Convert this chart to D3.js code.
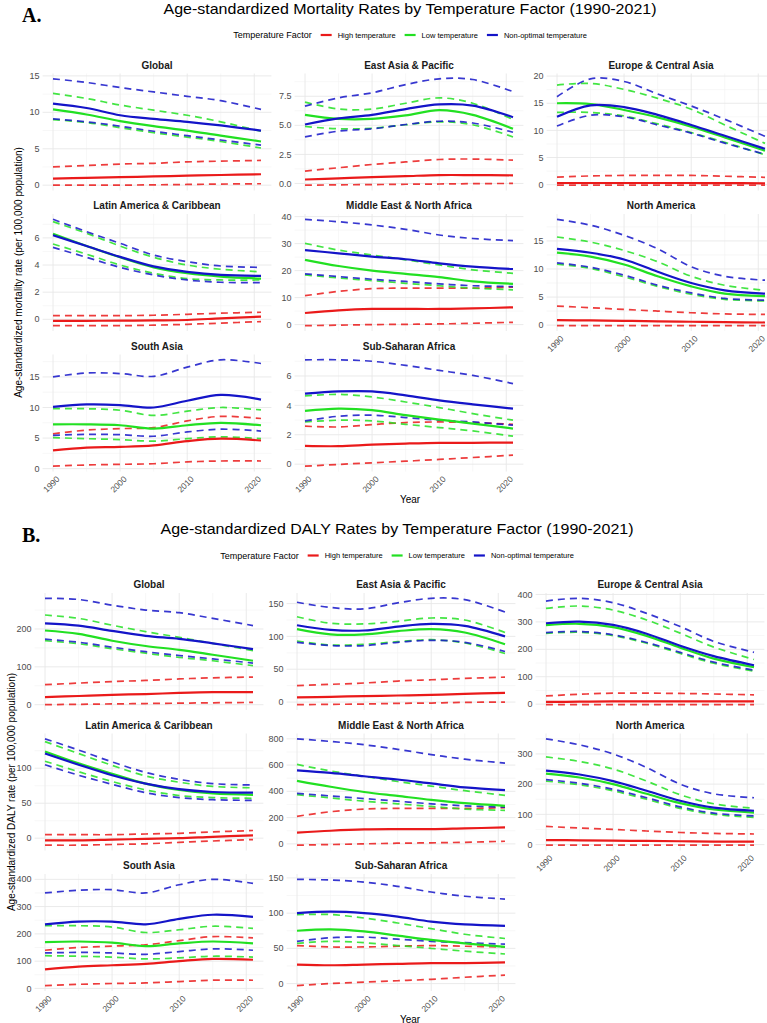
<!DOCTYPE html>
<html>
<head>
<meta charset="utf-8">
<script src="https://cdn.jsdelivr.net/npm/d3@7"></script>
<style>
  body { margin: 0; background: #fff; }
  text { font-family: "Liberation Sans", Arial, sans-serif; }
</style>
</head>
<body>
<svg id="chart" width="767" height="1023"></svg>
<script>
// sample years
const years = [1990, 1995, 2000, 2005, 2010, 2015, 2021];
const regions = ["Global", "East Asia & Pacific", "Europe & Central Asia",
  "Latin America & Caribbean", "Middle East & North Africa", "North America",
  "South Asia", "Sub-Saharan Africa"];
const factors = ["High temperature", "Low temperature", "Non-optimal temperature"];
const xTicks = [1990, 2000, 2010, 2020];

// each region: 9 rows -> for High, Low, Non-optimal: mean, lower, upper
const mortGlobal = [
  [0.9, 1.0, 1.1, 1.2, 1.3, 1.4, 1.5],
  [0.0, 0.0, 0.0, 0.05, 0.1, 0.15, 0.2],
  [2.5, 2.7, 2.9, 3.0, 3.2, 3.3, 3.4],
  [10.4, 9.7, 8.8, 8.1, 7.5, 6.8, 6.0],
  [9.0, 8.6, 7.9, 7.2, 6.6, 6.0, 5.1],
  [12.6, 11.9, 11.0, 10.3, 9.6, 8.7, 7.4],
  [11.2, 10.6, 9.6, 9.1, 8.7, 8.2, 7.5],
  [9.1, 8.7, 8.1, 7.4, 6.8, 6.2, 5.5],
  [14.6, 14.1, 13.4, 12.8, 12.2, 11.6, 10.4]
];
const mortEastAsia = [
  [0.34, 0.44, 0.54, 0.63, 0.72, 0.72, 0.7],
  [-0.15, -0.12, -0.1, -0.07, -0.05, -0.02, 0.0],
  [1.06, 1.35, 1.63, 1.85, 2.06, 2.1, 2.0],
  [5.9, 5.55, 5.55, 5.85, 6.3, 5.9, 4.7],
  [4.9, 4.7, 4.75, 5.05, 5.3, 5.05, 4.0],
  [7.0, 6.4, 6.4, 6.9, 7.36, 6.9, 5.5],
  [5.07, 5.6, 5.9, 6.4, 6.8, 6.7, 5.7],
  [4.0, 4.5, 4.7, 5.07, 5.35, 5.2, 4.4],
  [6.65, 7.36, 7.8, 8.5, 9.0, 8.94, 7.9]
];
const mortEurope = [
  [0.3, 0.3, 0.3, 0.3, 0.3, 0.28, 0.25],
  [-0.1, -0.1, -0.1, -0.1, -0.1, -0.1, -0.1],
  [1.4, 1.6, 1.7, 1.7, 1.7, 1.55, 1.35],
  [15.0, 14.85, 13.75, 12.4, 10.7, 8.7, 6.25],
  [13.3, 13.3, 12.65, 11.2, 9.6, 7.8, 5.5],
  [18.35, 18.65, 17.55, 15.9, 13.9, 11.0, 7.6],
  [12.5, 14.6, 14.3, 12.85, 11.0, 9.0, 6.6],
  [10.8, 12.8, 12.5, 11.0, 9.5, 7.65, 5.6],
  [16.2, 19.5, 19.0, 16.7, 14.5, 12.05, 8.9]
];
const mortLatin = [
  [-0.12, -0.11, -0.1, -0.08, -0.05, 0.07, 0.2],
  [-0.47, -0.47, -0.47, -0.43, -0.37, -0.28, -0.17],
  [0.27, 0.27, 0.27, 0.3, 0.37, 0.45, 0.52],
  [6.3, 5.4, 4.57, 3.83, 3.4, 3.15, 3.0],
  [5.55, 4.8, 4.0, 3.4, 3.0, 2.9, 2.9],
  [7.2, 6.34, 5.4, 4.57, 4.0, 3.69, 3.5],
  [6.2, 5.4, 4.6, 3.9, 3.5, 3.27, 3.2],
  [5.3, 4.57, 3.83, 3.27, 2.9, 2.73, 2.7],
  [7.37, 6.46, 5.6, 4.74, 4.25, 3.93, 3.83]
];
const mortMENA = [
  [4.3, 5.3, 5.8, 5.8, 5.8, 6.0, 6.4],
  [-0.4, -0.2, 0.0, 0.1, 0.25, 0.5, 0.85],
  [10.7, 12.3, 13.3, 13.5, 13.5, 13.5, 13.9],
  [24.0, 21.7, 20.0, 18.8, 17.6, 16.0, 15.1],
  [18.4, 17.3, 16.3, 15.3, 14.4, 13.5, 12.9],
  [30.1, 27.6, 25.8, 24.0, 22.1, 20.3, 19.0],
  [27.6, 26.4, 25.2, 24.2, 22.7, 21.5, 20.6],
  [18.8, 17.8, 16.8, 16.0, 15.1, 14.4, 14.1],
  [39.0, 38.1, 36.9, 35.3, 33.2, 31.9, 31.1]
];
const mortNorthAm = [
  [0.9, 0.83, 0.77, 0.68, 0.6, 0.52, 0.47],
  [-0.1, -0.1, -0.1, -0.1, -0.1, -0.1, -0.1],
  [3.4, 3.1, 2.8, 2.5, 2.2, 2.0, 1.9],
  [12.9, 12.2, 10.8, 8.7, 6.9, 5.6, 5.15],
  [10.85, 10.1, 8.6, 6.9, 5.5, 4.6, 4.3],
  [15.7, 14.8, 13.3, 11.3, 8.7, 7.1, 6.2],
  [13.6, 12.9, 11.7, 9.5, 7.5, 6.2, 5.6],
  [11.1, 10.3, 8.9, 7.1, 5.75, 4.75, 4.45],
  [18.85, 17.8, 16.0, 13.6, 10.4, 8.7, 8.0]
];
const mortSouthAsia = [
  [3.0, 3.45, 3.55, 3.8, 4.5, 4.9, 4.6],
  [0.4, 0.6, 0.7, 0.8, 1.1, 1.25, 1.25],
  [5.7, 6.3, 6.55, 6.7, 7.8, 8.55, 8.2],
  [7.25, 7.25, 7.1, 6.55, 7.1, 7.5, 7.1],
  [5.07, 4.9, 4.75, 4.5, 4.9, 5.2, 4.9],
  [9.8, 9.8, 9.55, 8.7, 9.4, 10.0, 9.6],
  [10.1, 10.5, 10.4, 10.0, 11.1, 12.05, 11.3],
  [5.45, 5.6, 5.55, 5.3, 6.0, 6.45, 6.15],
  [15.0, 15.65, 15.55, 15.1, 16.6, 17.8, 17.2]
];
const mortSSA = [
  [1.24, 1.22, 1.33, 1.4, 1.45, 1.45, 1.47],
  [-0.14, -0.02, 0.09, 0.2, 0.32, 0.45, 0.61],
  [2.58, 2.53, 2.69, 2.83, 2.87, 2.83, 2.71],
  [3.62, 3.78, 3.67, 3.33, 3.03, 2.76, 2.42],
  [2.87, 2.99, 2.94, 2.71, 2.49, 2.26, 1.9],
  [4.64, 4.75, 4.57, 4.23, 3.85, 3.44, 2.99],
  [4.8, 4.95, 4.95, 4.68, 4.34, 4.07, 3.78],
  [2.94, 3.26, 3.33, 3.17, 2.99, 2.87, 2.65],
  [7.1, 7.1, 7.0, 6.72, 6.38, 6.04, 5.48]
];

const dalyGlobal = [
  [20, 23, 26, 28, 31, 33, 33],
  [0, 1, 2, 3, 4, 5, 6],
  [53, 57, 61, 64, 68, 71, 73],
  [196, 187, 169, 155, 145, 132, 116],
  [169, 161, 148, 136, 125, 116, 103],
  [237, 228, 210, 193, 178, 162, 143],
  [215, 209, 195, 182, 174, 162, 147],
  [173, 165, 152, 140, 130, 121, 110],
  [281, 278, 263, 250, 243, 228, 209]
];
const dalyEastAsia = [
  [7, 8, 9, 10, 11, 12.5, 14],
  [-4, -3.5, -3, -2, -1.5, -0.5, 0],
  [25, 27, 29, 32, 34, 36, 38],
  [111, 103, 103, 108, 111, 106, 88],
  [93, 87, 88, 92, 95, 90, 74],
  [130, 120, 119, 123, 128, 125, 106],
  [117, 110, 109, 115, 119, 116, 100],
  [91, 86, 86, 91, 94, 91, 77],
  [152, 144, 142, 151, 158, 156, 137]
];
const dalyEurope = [
  [8, 9, 10, 10, 10, 10, 10],
  [-2, -2, -2, -2, -2, -2, -2],
  [30, 36, 40, 40, 39, 37, 34],
  [288, 293, 281, 249, 206, 166, 135],
  [258, 262, 250, 222, 185, 149, 120],
  [349, 358, 343, 307, 259, 208, 163],
  [295, 301, 289, 257, 213, 175, 142],
  [261, 265, 253, 225, 189, 153, 124],
  [376, 386, 370, 331, 283, 229, 189]
];
const dalyLatin = [
  [-3, -3, -2, -1, 0, 2, 4],
  [-10, -10, -9, -8, -6, -4, -2],
  [5, 5, 5, 6, 7, 9, 11],
  [124, 107, 92, 78, 69, 64, 62],
  [110, 95, 81, 69, 61, 58, 57],
  [138, 121, 104, 89, 80, 74, 72],
  [121, 105, 90, 78, 70, 66, 65],
  [105, 90, 77, 65, 58, 55, 54],
  [142, 126, 109, 94, 84, 78, 76]
];
const dalyMENA = [
  [85, 100, 110, 112, 112, 118, 125],
  [-10, -5, 0, 5, 8, 12, 20],
  [210, 245, 265, 270, 270, 270, 275],
  [480, 435, 395, 365, 335, 310, 290],
  [375, 350, 325, 305, 285, 265, 255],
  [605, 555, 515, 475, 440, 405, 370],
  [560, 540, 515, 490, 460, 430, 410],
  [385, 365, 345, 325, 305, 290, 280],
  [800, 780, 755, 720, 680, 645, 615]
];
const dalyNorthAm = [
  [15, 14, 13, 12, 11, 10, 10],
  [-2, -2, -2, -2, -2, -2, -2],
  [60, 55, 50, 45, 40, 37, 35],
  [235, 222, 200, 168, 137, 116, 106],
  [210, 198, 178, 150, 120, 100, 90],
  [290, 275, 250, 210, 165, 135, 120],
  [245, 232, 210, 178, 145, 122, 112],
  [215, 203, 183, 155, 125, 104, 95],
  [350, 330, 300, 255, 200, 168, 155]
];
const dalySouthAsia = [
  [70, 80, 85, 90, 100, 108, 105],
  [10, 15, 18, 20, 25, 30, 30],
  [140, 150, 155, 160, 175, 190, 185],
  [170, 172, 168, 155, 165, 172, 165],
  [120, 118, 115, 108, 112, 118, 115],
  [230, 230, 225, 205, 215, 228, 220],
  [235, 245, 245, 235, 255, 270, 262],
  [130, 132, 130, 125, 135, 145, 140],
  [350, 360, 362, 350, 380, 400, 385]
];
const dalySSA = [
  [27, 26, 27, 28, 29, 29, 30],
  [-3, 0, 2, 4, 6, 9, 12],
  [54, 52, 52, 53, 54, 53, 52],
  [75, 77, 74, 68, 62, 57, 52],
  [57, 60, 58, 54, 50, 46, 42],
  [98, 98, 93, 86, 78, 70, 64],
  [100, 102, 100, 95, 88, 84, 82],
  [60, 65, 66, 63, 60, 58, 56],
  [148, 147, 144, 138, 130, 124, 120]
];

// y-axis breaks per facet
const mortTicks = [[0, 5, 10, 15], [0, 2.5, 5, 7.5], [0, 5, 10, 15, 20],
  [0, 2, 4, 6], [0, 10, 20, 30, 40], [0, 5, 10, 15],
  [0, 5, 10, 15], [0, 2, 4, 6]];
const dalyTicks = [[0, 100, 200], [0, 50, 100, 150], [0, 100, 200, 300, 400],
  [0, 50, 100], [0, 200, 400, 600, 800], [0, 100, 200, 300],
  [0, 100, 200, 300, 400], [0, 50, 100, 150]];

const mortData = [mortGlobal, mortEastAsia, mortEurope, mortLatin, mortMENA, mortNorthAm, mortSouthAsia, mortSSA];
const dalyData = [dalyGlobal, dalyEastAsia, dalyEurope, dalyLatin, dalyMENA, dalyNorthAm, dalySouthAsia, dalySSA];

const colors = ["#EA1A1A", "#22E022", "#1414C8"];

const svg = d3.select("#chart");
const W = 208, H = 117;

function drawFacet(g, name, rows, ticks, x0, top, showX) {
  const x = d3.scaleLinear().domain([1990, 2021]).range([x0, x0 + W]);
  const [lo, hi] = d3.extent(rows.flat());
  const pad = (hi - lo) * 0.05;
  const y = d3.scaleLinear().domain([lo - pad, hi + pad]).range([top + H, top]);
  const xl = x(1988.45), xr = x(2022.55);
  const step = ticks[1] - ticks[0];
  const inY = v => v >= lo - pad && v <= hi + pad;

  // minor grid
  const minorY = d3.range(ticks[0] - step / 2, hi + pad + step, step).filter(inY);
  g.selectAll(null).data(minorY).enter().append("line")
    .attr("x1", xl).attr("x2", xr).attr("y1", d => y(d)).attr("y2", d => y(d))
    .attr("stroke", "#f2f2f2").attr("stroke-width", 0.6);
  g.selectAll(null).data([1995, 2005, 2015]).enter().append("line")
    .attr("x1", d => x(d)).attr("x2", d => x(d)).attr("y1", top).attr("y2", top + H)
    .attr("stroke", "#f2f2f2").attr("stroke-width", 0.6);
  // major grid
  const majorY = ticks.filter(inY);
  g.selectAll(null).data(majorY).enter().append("line")
    .attr("x1", xl).attr("x2", xr).attr("y1", d => y(d)).attr("y2", d => y(d))
    .attr("stroke", "#e8e8e8").attr("stroke-width", 0.9);
  g.selectAll(null).data(xTicks).enter().append("line")
    .attr("x1", d => x(d)).attr("x2", d => x(d)).attr("y1", top).attr("y2", top + H)
    .attr("stroke", "#e8e8e8").attr("stroke-width", 0.9);

  // y labels
  const fmt = step % 1 !== 0 ? d3.format(".1f") : d3.format("d");
  g.selectAll(null).data(majorY).enter().append("text")
    .attr("x", xl - 3).attr("y", d => y(d)).attr("dy", "0.35em")
    .attr("text-anchor", "end").attr("font-size", 9).attr("fill", "#4d4d4d")
    .text(d => fmt(d));

  // facet title
  g.append("text").attr("x", (xl + xr) / 2).attr("y", top - 5)
    .attr("text-anchor", "middle").attr("font-size", 10).attr("font-weight", "bold")
    .attr("fill", "#1a1a1a").text(name);

  const line = d3.line().x((d, i) => x(years[i])).y(d => y(d))
    .curve(d3.curveCatmullRom.alpha(0.5));

  // dashed bounds first, then means
  [0, 1, 2].forEach(f => {
    [1, 2].forEach(k => {
      g.append("path").attr("d", line(rows[f * 3 + k])).attr("fill", "none")
        .attr("stroke", colors[f]).attr("stroke-width", 1.7)
        .attr("stroke-dasharray", "7,5").attr("opacity", 0.85);
    });
  });
  [0, 1, 2].forEach(f => {
    g.append("path").attr("d", line(rows[f * 3])).attr("fill", "none")
      .attr("stroke", colors[f]).attr("stroke-width", 2.2);
  });

  if (showX) {
    g.selectAll(null).data(xTicks).enter().append("text")
      .attr("transform", d => `translate(${x(d) + 3},${top + H + 4}) rotate(-45)`)
      .attr("dy", "0.7em").attr("text-anchor", "end")
      .attr("font-size", 8.5).attr("fill", "#4d4d4d").text(d => d);
  }
}

function drawLegend(g, cx, cy) {
  const lg = g.append("g");
  let pos = 0;
  const t = lg.append("text").attr("x", 0).attr("y", cy).attr("dy", "0.35em")
    .attr("font-size", 9).text("Temperature Factor");
  pos = t.node().getComputedTextLength() + 9;
  factors.forEach((f, i) => {
    lg.append("line").attr("x1", pos).attr("x2", pos + 11).attr("y1", cy).attr("y2", cy)
      .attr("stroke", colors[i]).attr("stroke-width", 2.2);
    pos += 17;
    const lt = lg.append("text").attr("x", pos).attr("y", cy).attr("dy", "0.35em")
      .attr("font-size", 7.5).text(f);
    pos += lt.node().getComputedTextLength() + 9;
  });
  lg.attr("transform", `translate(${cx - (pos - 9) / 2},0)`);
}

function drawSection(opt) {
  const g = svg.append("g");
  g.append("text").attr("x", 22).attr("y", opt.off + 22)
    .style("font-family", "'Liberation Serif', 'Times New Roman', serif")
    .attr("font-size", 20).attr("font-weight", "bold").text(opt.letter);
  g.append("text").attr("x", opt.titleX).attr("y", opt.off + 14)
    .attr("text-anchor", "middle").attr("font-size", 15)
    .attr("textLength", opt.titleW).attr("lengthAdjust", "spacingAndGlyphs")
    .text(opt.title);
  drawLegend(g, opt.titleX, opt.off + opt.legendY);

  const rowTop = [73.5, 214, 354.5].map(v => v + opt.off);
  regions.forEach((r, i) => {
    const row = Math.floor(i / 3), col = i % 3;
    drawFacet(g, r, opt.data[i], opt.ticks[i], opt.colX[col], rowTop[row], i >= 5);
  });

  const midY = (rowTop[0] + rowTop[2] + H) / 2;
  g.append("text").attr("transform", `translate(${opt.yTitleX},${midY}) rotate(-90)`)
    .attr("text-anchor", "middle").attr("font-size", 10).text(opt.yTitle);
  g.append("text").attr("x", 410).attr("y", opt.off + 503)
    .attr("text-anchor", "middle").attr("font-size", 10).text("Year");
}

drawSection({
  off: 0, letter: "A.", titleX: 410, titleW: 493,
  title: "Age-standardized Mortality Rates by Temperature Factor (1990-2021)",
  legendY: 35, data: mortData, ticks: mortTicks, colX: [53, 305, 557], yTitleX: 22,
  yTitle: "Age-standardized mortality rate (per 100,000 population)"
});
drawSection({
  off: 519.5, letter: "B.", titleX: 397, titleW: 473,
  title: "Age-standardized DALY Rates by Temperature Factor (1990-2021)",
  legendY: 36, data: dalyData, ticks: dalyTicks, colX: [45, 297, 546], yTitleX: 15,
  yTitle: "Age-standardized DALY rate (per 100,000 population)"
});
</script>
</body>
</html>
